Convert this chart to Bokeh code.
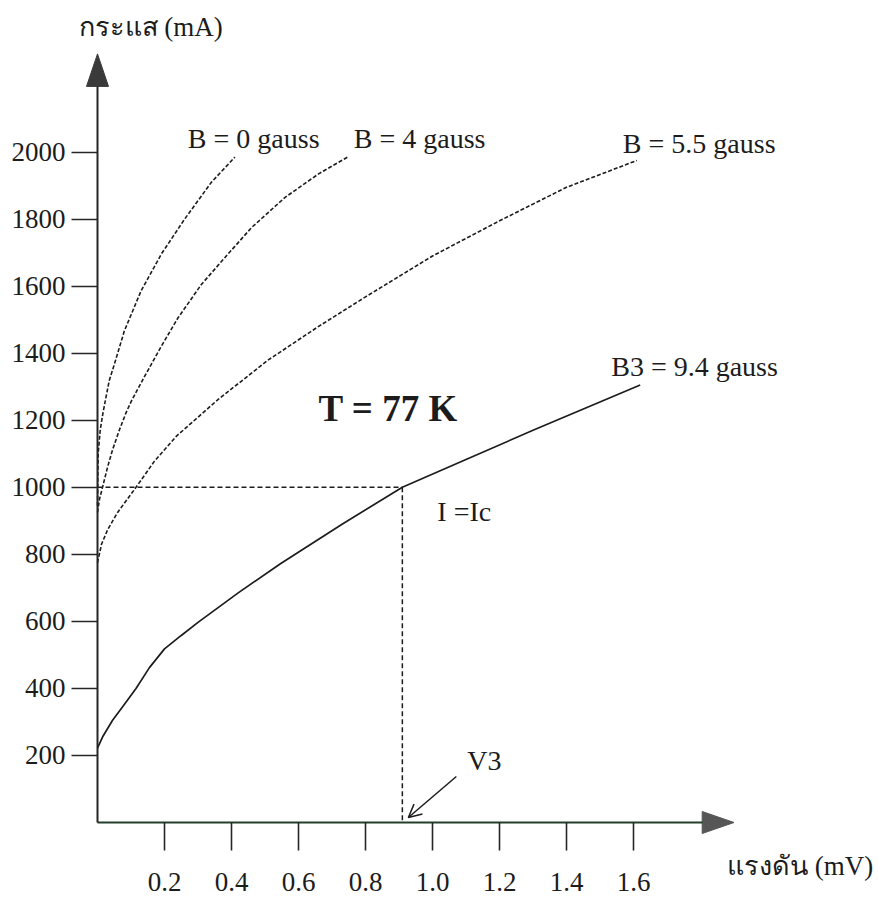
from bokeh.plotting import figure
from bokeh.models import Range1d, LinearAxis, FixedTicker, Arrow, OpenHead
from bokeh.core.properties import value
from bokeh.embed import file_html
from bokeh.resources import INLINE

# ---------------- data ----------------
# voltage in mV, current in mA
B0_V = [0, 0.002, 0.008, 0.016, 0.024, 0.035, 0.05, 0.08, 0.13, 0.19, 0.26, 0.34, 0.41]
B0_I = [945, 1100, 1170, 1220, 1262, 1318, 1366, 1466, 1586, 1695, 1800, 1910, 1985]

B4_V = [0, 0.006, 0.015, 0.03, 0.045, 0.065, 0.085, 0.10, 0.14, 0.19, 0.24, 0.31, 0.38, 0.46, 0.56, 0.66, 0.75]
B4_I = [925, 965, 1000, 1060, 1112, 1170, 1222, 1255, 1330, 1420, 1505, 1605, 1685, 1775, 1865, 1935, 1987]

B55_V = [0, 0.012, 0.03, 0.06, 0.115, 0.17, 0.235, 0.36, 0.51, 0.66, 0.80, 1.0, 1.2, 1.4, 1.61]
B55_I = [775, 830, 873, 925, 1000, 1078, 1152, 1262, 1380, 1480, 1568, 1690, 1795, 1895, 1975]

B3_V = [0, 0.015, 0.045, 0.075, 0.115, 0.155, 0.2, 0.25, 0.3, 0.42, 0.546, 0.73, 0.91, 1.1, 1.3, 1.62]
B3_I = [222, 255, 305, 345, 400, 462, 518, 558, 597, 685, 772, 890, 1000, 1083, 1170, 1305]

IC_V = 0.91     # V3
IC_I = 1000     # Ic

Y_TICKS = [200, 400, 600, 800, 1000, 1200, 1400, 1600, 1800, 2000]
Y_TICK_LABELS = ["200", "400", "600", "800", "1000", "1200", "1400", "1600", "1800", "2000"]
X_TICKS = [0.2, 0.4, 0.6, 0.8, 1.0, 1.2, 1.4, 1.6]
X_TICK_LABELS = ["0.2", "0.4", "0.6", "0.8", "1.0", "1.2", "1.4", "1.6"]

CURVE_LABELS = ["B = 0 gauss", "B = 4 gauss", "B = 5.5 gauss", "B3 = 9.4 gauss"]
Y_TITLE = "กระแส (mA)"
X_TITLE = "แรงดัน (mV)"
TEMP_LABEL = "T = 77 K"
IC_LABEL = "I =Ic"
V3_LABEL = "V3"

# ---------------- layout ----------------
W, H = 876, 900
ORIGIN_X, ORIGIN_Y = 97, 822        # canvas pixel of (0 mV, 0 mA)
PX_PER_MV = 335.0
PX_PER_MA = 0.3352

def dx(px):  # pixel distance -> mV
    return px / PX_PER_MV

def dy(px):  # pixel distance -> mA
    return px / PX_PER_MA

FONT = "Liberation Serif"
INK = "#1c1c1c"
AXIS = "#262626"

p = figure(width=W, height=H, output_backend="svg", toolbar_location=None,
           x_range=Range1d(-dx(ORIGIN_X), dx(W - ORIGIN_X)),
           y_range=Range1d(-dy(H - ORIGIN_Y), dy(ORIGIN_Y)),
           x_axis_type=None, y_axis_type=None, min_border=0, title=None)
p.outline_line_color = None
p.background_fill_color = "white"
p.border_fill_color = "white"

Y_AXIS_END = 2196
Y_ARROW_TIP = 2293
X_AXIS_END = 1.805
X_ARROW_TIP = 1.90

yax = LinearAxis(fixed_location=0, bounds=(0, Y_AXIS_END),
                 ticker=FixedTicker(ticks=Y_TICKS),
                 major_label_overrides={t: l for t, l in zip(Y_TICKS, Y_TICK_LABELS)},
                 major_tick_out=26, major_tick_in=0, minor_tick_out=0, minor_tick_in=0,
                 major_label_standoff=6,
                 major_label_text_font=FONT, major_label_text_font_size="27px",
                 major_label_text_color=INK,
                 axis_line_color=AXIS, axis_line_width=2,
                 major_tick_line_color=AXIS, major_tick_line_width=1.6)
p.add_layout(yax, "left")

xax = LinearAxis(fixed_location=0, bounds=(0, X_AXIS_END),
                 ticker=FixedTicker(ticks=X_TICKS),
                 major_label_overrides={t: l for t, l in zip(X_TICKS, X_TICK_LABELS)},
                 major_tick_out=28, major_tick_in=0, minor_tick_out=0, minor_tick_in=0,
                 major_label_standoff=22,
                 major_label_text_font=FONT, major_label_text_font_size="27px",
                 major_label_text_color=INK,
                 axis_line_color="#233f2c", axis_line_width=2,
                 major_tick_line_color=AXIS, major_tick_line_width=1.6)
p.add_layout(xax, "below")

# axis arrowheads
p.patch([-dx(11), 0, dx(11)], [Y_AXIS_END, Y_ARROW_TIP, Y_AXIS_END],
        fill_color="#3a3a3a", line_color="#3a3a3a", line_width=1)
p.patch([X_AXIS_END, X_ARROW_TIP, X_AXIS_END], [dy(11), 0, -dy(11)],
        fill_color="#565656", line_color="#565656", line_width=1)

# curves
for vs, cs in [(B0_V, B0_I), (B4_V, B4_I), (B55_V, B55_I)]:
    p.line(vs, cs, line_color=INK, line_width=1.6, line_dash="4 2")
p.line(B3_V, B3_I, line_color=INK, line_width=1.7)

# Ic guide lines
p.line([0, IC_V], [IC_I, IC_I], line_color=INK, line_width=1.5, line_dash="5 3")
p.line([IC_V, IC_V], [IC_I, 0], line_color=INK, line_width=1.5, line_dash="5 3")

# texts
def txt(x, y, s, size="28px", style="normal"):
    p.text(x=[x], y=[y], text=[s], text_font=value(FONT), text_font_size=size,
           text_font_style=style, text_color=INK,
           text_align="left", text_baseline="middle")

txt(B0_V[-1] - dx(47), B0_I[-1] + dy(19), CURVE_LABELS[0])
txt(B4_V[-1] + dx(5), B4_I[-1] + dy(18), CURVE_LABELS[1])
txt(B55_V[-1] - dx(14), B55_I[-1] + dy(17), CURVE_LABELS[2])
txt(B3_V[-1] - dx(29), B3_I[-1] + dy(19), CURVE_LABELS[3])
txt(0.66, 1235, TEMP_LABEL, size="37px", style="bold")
txt(IC_V + dx(35), IC_I - dy(24), IC_LABEL)
txt(IC_V + dx(65), dy(62), V3_LABEL)
txt(-dx(19), Y_ARROW_TIP + dy(27), Y_TITLE, size="27px")
txt(X_ARROW_TIP - dx(7), -dy(43), X_TITLE, size="27px")

# V3 pointer
p.add_layout(Arrow(end=OpenHead(size=13, line_width=1.5, line_color=INK),
                   x_start=IC_V + dx(54), y_start=dy(46),
                   x_end=IC_V + dx(6), y_end=dy(5),
                   line_width=1.5, line_color=INK))

open("out.html", "w").write(file_html(p, INLINE))
